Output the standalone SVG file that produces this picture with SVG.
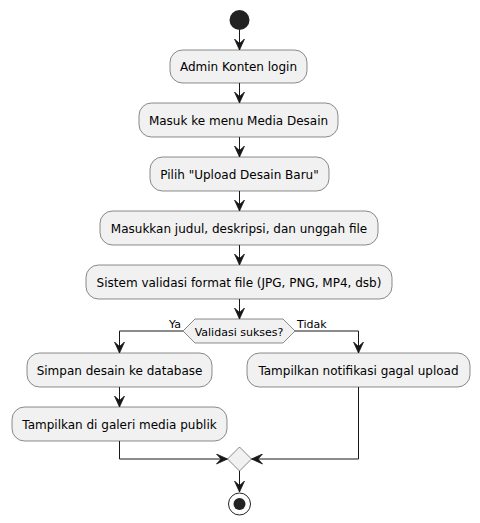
<svg xmlns="http://www.w3.org/2000/svg" width="480" height="523" viewBox="0 0 480 523">
<style>
.act rect{fill:#F1F1F1;stroke:#181818;stroke-width:0.5}
.act text{font-family:"DejaVu Sans",sans-serif;font-size:12px;fill:#000;text-anchor:middle}
.dec polygon{fill:#F1F1F1;stroke:#181818;stroke-width:0.5}
.dec text{font-family:"DejaVu Sans",sans-serif;font-size:11px;fill:#000;text-anchor:middle}
#connectors path{fill:none;stroke:#181818;stroke-width:1;marker-end:url(#arr)}
.lbl{font-family:"DejaVu Sans",sans-serif;font-size:11px;fill:#000}
</style>
<defs>
<marker id="arr" viewBox="-0.5 -0.5 12 11" refX="11" refY="5" markerWidth="12" markerHeight="11" markerUnits="userSpaceOnUse" orient="auto">
<path d="M0,0 L11,5 L0,10 L4.5,5 Z" fill="#181818" stroke="#181818" stroke-width="0.8" stroke-linejoin="miter"/>
</marker>
</defs>
<rect width="480" height="523" fill="#FFFFFF"/>
<g id="connectors">
<path d="M239.5,30 V50"/>
<path d="M239.5,83 V103"/>
<path d="M239.5,137 V157"/>
<path d="M239.5,191 V211"/>
<path d="M239.5,245 V265"/>
<path d="M239.5,299 V319"/>
<path d="M183,331 H119.5 V353"/>
<path d="M295,331 H358.5 V353"/>
<path d="M119.5,387 V407"/>
<path d="M119.5,441 V459 H227.5"/>
<path d="M358.5,387 V459 H251.5"/>
<path d="M239.5,471 V492"/>
<text class="lbl" x="181" y="328" text-anchor="end">Ya</text>
<text class="lbl" x="297" y="328">Tidak</text>
</g>
<g id="start"><circle cx="239.5" cy="20" r="10" fill="#222222"/></g>
<g id="n1" class="act"><rect x="170" y="50" width="137" height="33" rx="12.5"/><text x="238.5" y="71">Admin Konten login</text></g>
<g id="n2" class="act"><rect x="139" y="103" width="199" height="34" rx="12.5"/><text x="238.5" y="125">Masuk ke menu Media Desain</text></g>
<g id="n3" class="act"><rect x="150" y="157" width="179" height="34" rx="12.5"/><text x="239.5" y="179">Pilih "Upload Desain Baru"</text></g>
<g id="n4" class="act"><rect x="100" y="211" width="278" height="34" rx="12.5"/><text x="239" y="233">Masukkan judul, deskripsi, dan unggah file</text></g>
<g id="n5" class="act"><rect x="86" y="265" width="306" height="34" rx="12.5"/><text x="239" y="287">Sistem validasi format file (JPG, PNG, MP4, dsb)</text></g>
<g id="d1" class="dec"><polygon points="183,331 195,319 283,319 295,331 283,343 195,343"/><text x="239" y="336">Validasi sukses?</text></g>
<g id="n6" class="act"><rect x="27" y="353" width="185" height="34" rx="12.5"/><text x="119.5" y="375">Simpan desain ke database</text></g>
<g id="n7" class="act"><rect x="247" y="353" width="223" height="34" rx="12.5"/><text x="358.5" y="375">Tampilkan notifikasi gagal upload</text></g>
<g id="n8" class="act"><rect x="12" y="407" width="215" height="34" rx="12.5"/><text x="119.5" y="429">Tampilkan di galeri media publik</text></g>
<g id="merge" class="dec"><polygon points="239.5,447 251.5,459 239.5,471 227.5,459"/></g>
<g id="end"><circle cx="239.5" cy="504" r="11" fill="none" stroke="#222222" stroke-width="1"/><circle cx="239.5" cy="504" r="6" fill="#222222"/></g>
</svg>
